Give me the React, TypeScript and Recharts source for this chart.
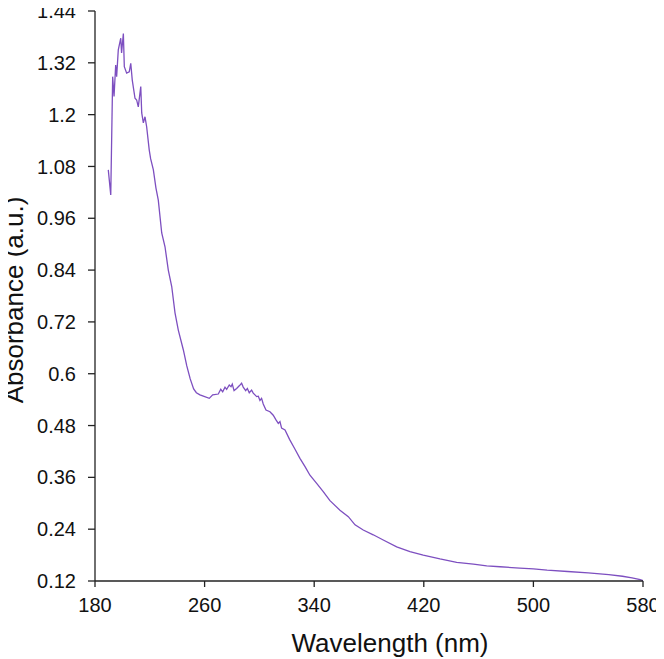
import React from "react";
import { LineChart, Line, XAxis, YAxis, Label } from "recharts";

// Absorption spectrum: wavelength (nm) and absorbance (a.u.)
const wavelength: number[] = [
  189.7, 191.5, 192.9, 193.9, 195.1, 195.8, 197.0, 198.8, 199.4, 200.7,
  201.4, 203.1, 205.0, 206.1, 207.2, 209.2, 210.4, 211.6, 213.4, 214.1,
  215.3, 216.5, 217.7, 219.6, 220.6, 222.6, 224.5, 226.2, 228.7, 231.1,
  233.5, 236.0, 238.4, 240.8, 244.5, 247.0, 249.5, 252.0, 254.0, 256.6,
  259.1, 263.4, 265.9, 270.0, 271.8, 273.2, 274.9, 276.1, 278.0, 279.3,
  280.2, 281.5, 283.4, 285.3, 287.0, 288.2, 290.0, 291.2, 292.6, 294.3,
  295.5, 298.0, 299.2, 300.4, 301.6, 302.8, 304.8, 307.7, 310.1, 312.1,
  313.8, 315.0, 316.2, 318.7, 322.0, 326.0, 329.6, 333.3, 336.9, 341.8,
  346.6, 351.5, 358.8, 364.9, 369.8, 375.8, 383.1, 390.4, 400.2, 409.9,
  419.6, 431.8, 444.0, 456.2, 465.9, 475.6, 490.0, 500.0, 510.0, 525.0,
  540.0, 555.0, 565.0, 572.0, 578.0, 580.0,
];

const absorbance: number[] = [
  1.072, 1.014, 1.288, 1.242, 1.315, 1.288, 1.35, 1.377, 1.343, 1.388,
  1.311, 1.296, 1.299, 1.319, 1.28, 1.238, 1.234, 1.218, 1.265, 1.204,
  1.181, 1.195, 1.172, 1.118, 1.098, 1.072, 1.03, 1.002, 0.926, 0.894,
  0.84, 0.802, 0.741, 0.701, 0.655, 0.618, 0.588, 0.565, 0.556, 0.551,
  0.548, 0.543, 0.551, 0.553, 0.564, 0.558, 0.569, 0.564, 0.574, 0.57,
  0.576, 0.561, 0.566, 0.572, 0.578, 0.569, 0.561, 0.566, 0.556, 0.562,
  0.555, 0.547, 0.548, 0.538, 0.543, 0.53, 0.516, 0.512, 0.504, 0.493,
  0.485, 0.489, 0.474, 0.47, 0.448, 0.425, 0.404, 0.385, 0.365, 0.346,
  0.327, 0.306, 0.284, 0.269, 0.25, 0.238, 0.227, 0.215, 0.199, 0.188,
  0.18, 0.171, 0.163, 0.159, 0.155, 0.153, 0.15, 0.148, 0.145, 0.142,
  0.139, 0.135, 0.131, 0.127, 0.123, 0.121,
];

const xTicks: number[] = [180, 260, 340, 420, 500, 580];
const yTicks: number[] = [0.12, 0.24, 0.36, 0.48, 0.6, 0.72, 0.84, 0.96, 1.08, 1.2, 1.32, 1.44];

const data = wavelength.map((w, i) => ({ wavelength: w, absorbance: absorbance[i] }));

const FONT = "'Liberation Sans', Arial, Helvetica, sans-serif";
const tickStyle = { fontSize: 20, fill: "#111", fontFamily: FONT };
const axisLine = { stroke: "#222", strokeWidth: 1.3 };

export default function App() {
  return (
    // cancel the body margin so the chart fills the window
    <div style={{ width: 664, height: 659, margin: "-8px 0 0 -8px" }}>
      <LineChart
        width={664}
        height={659}
        data={data}
        margin={{ top: 11, right: 21, bottom: 0, left: 0 }}
      >
        <XAxis
          dataKey="wavelength"
          type="number"
          domain={[180, 580]}
          ticks={xTicks}
          interval={0}
          height={78}
          tickSize={6}
          tickMargin={11}
          tick={tickStyle}
          axisLine={axisLine}
          tickLine={axisLine}
        >
          <Label
            value="Wavelength (nm)"
            position="insideBottom"
            offset={7}
            dx={21}
            style={{ fontSize: 26, fill: "#111", fontFamily: FONT }}
          />
        </XAxis>
        <YAxis
          type="number"
          domain={[0.12, 1.44]}
          ticks={yTicks}
          interval={0}
          width={95}
          tickSize={7}
          tickMargin={12}
          tick={tickStyle}
          tickFormatter={(v: number) => String(v)}
          axisLine={axisLine}
          tickLine={axisLine}
          allowDataOverflow
        >
          <Label
            value="Absorbance (a.u.)"
            position="center"
            angle={-90}
            dx={-33.5}
            dy={4}
            style={{ fontSize: 26, fill: "#111", fontFamily: FONT }}
          />
        </YAxis>
        <Line
          type="linear"
          dataKey="absorbance"
          stroke="#7d4fc0"
          strokeWidth={1.3}
          dot={false}
          isAnimationActive={false}
        />
      </LineChart>
    </div>
  );
}
